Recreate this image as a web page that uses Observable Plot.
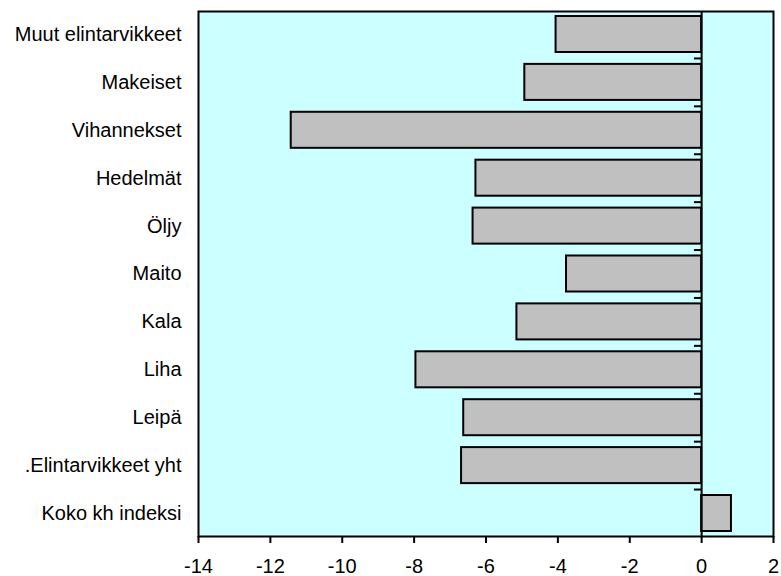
<!DOCTYPE html>
<html><head><meta charset="utf-8">
<script src="https://cdn.jsdelivr.net/npm/d3@7"></script>
<script src="https://cdn.jsdelivr.net/npm/@observablehq/plot@0.6"></script>
<style>body{margin:0;background:#fff;font-family:"Liberation Sans",Arial,sans-serif}</style>
</head><body><div id="chart"></div>
<script>
const categories = ["Muut elintarvikkeet","Makeiset","Vihannekset","Hedelmät","Öljy","Maito","Kala","Liha","Leipä",".Elintarvikkeet yht","Koko kh indeksi"];
const values = [-4.05,-4.92,-11.42,-6.28,-6.36,-3.76,-5.14,-7.95,-6.62,-6.68,0.83];
const xTicks = [-14,-12,-10,-8,-6,-4,-2,0,2];

const data = categories.map((c,i)=>({cat:c, v:values[i]}));
const pInner = 0.248, pOuter = 0.104;
const plotH = 576 - 11 - 40;
const step = plotH / (categories.length - pInner + 2 * pOuter);

const chart = Plot.plot({
  width: 781, height: 576,
  marginLeft: 198, marginRight: 8, marginTop: 11, marginBottom: 40,
  style: {fontFamily: '"Liberation Sans", Arial, sans-serif', fontSize: "20px", color: "#000", background: "#fff"},
  x: {domain: [-14, 2], label: null},
  y: {domain: categories, paddingInner: pInner, paddingOuter: pOuter, round: false, label: null},
  marks: [
    Plot.frame({fill: "#ccffff", stroke: "none"}),
    Plot.barX(data, {x: "v", y: "cat", fill: "#c0c0c0", stroke: "#000", strokeWidth: 2}),
    Plot.ruleX([0], {stroke: "#000", strokeWidth: 2}),
    Plot.ruleY(categories.slice(0, -1), {y: d => d, x1: -0.2, x2: 0, dy: step/2, stroke: "#000", strokeWidth: 2}),
    Plot.frame({stroke: "#000", strokeWidth: 2, fill: "none"}),
    Plot.axisX({ticks: xTicks, tickSize: 7, tickPadding: 15, strokeWidth: 2, fontSize: 20, tickFormat: d => String(d)}),
    Plot.axisY({tickSize: 0, tickPadding: 17, fontSize: 20})
  ]
});
document.getElementById("chart").appendChild(chart);
</script></body></html>
